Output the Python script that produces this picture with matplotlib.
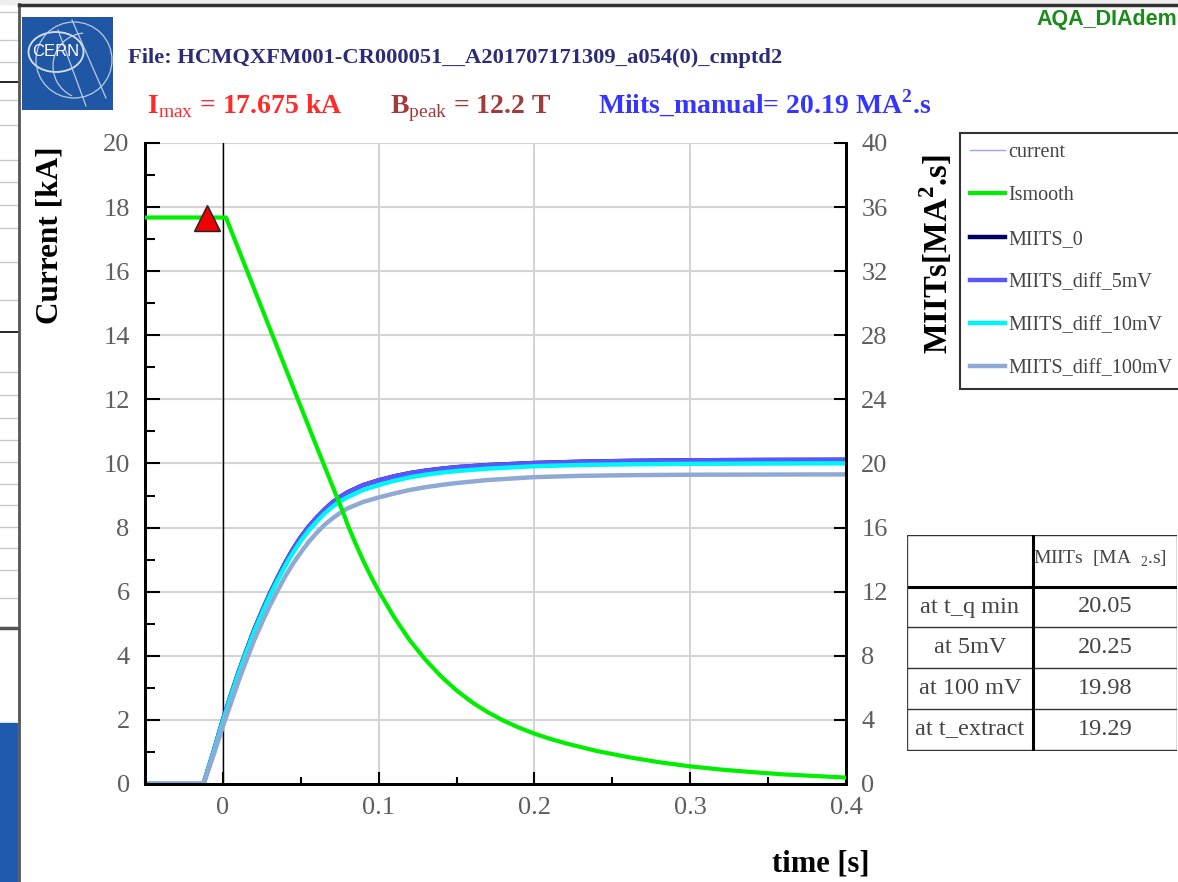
import matplotlib
matplotlib.use('Agg')
import matplotlib.pyplot as plt
from matplotlib.lines import Line2D
from matplotlib.patches import Rectangle, Circle, Ellipse, Arc
from matplotlib.ticker import MultipleLocator

plt.rcParams['font.family'] = ['Liberation Serif', 'DejaVu Serif']
plt.rcParams['mathtext.fontset'] = 'custom'
plt.rcParams['mathtext.rm'] = 'Liberation Serif'
plt.rcParams['mathtext.bf'] = 'Liberation Serif:bold'

W, H = 1178, 882

# ---- data ----
# smoothed / measured current [kA]
t_current = [-0.05, 0.002, 0.02, 0.04, 0.06, 0.078, 0.08, 0.085, 0.09, 0.095, 0.1,
             0.11, 0.12, 0.13, 0.14, 0.15, 0.16, 0.17, 0.18, 0.19, 0.2, 0.21, 0.22,
             0.24, 0.26, 0.28, 0.3, 0.32, 0.34, 0.36, 0.38, 0.4]
i_smooth = [17.675, 17.675, 15.46, 13.0, 10.55, 8.37, 8.1, 7.52, 6.98, 6.48, 6.02,
            5.2, 4.48, 3.88, 3.36, 2.92, 2.55, 2.24, 1.98, 1.76, 1.57, 1.41, 1.27,
            1.03, 0.84, 0.68, 0.55, 0.45, 0.37, 0.3, 0.25, 0.2]
i_current = i_smooth

# MIITs [MA^2.s]
t_miits = [-0.05, -0.0125, -0.006, 0.0, 0.005, 0.01, 0.015, 0.02, 0.025, 0.03, 0.035,
           0.04, 0.045, 0.05, 0.055, 0.06, 0.065, 0.07, 0.075, 0.08, 0.09, 0.1, 0.11,
           0.12, 0.13, 0.14, 0.15, 0.17, 0.2, 0.23, 0.26, 0.3, 0.35, 0.4]
miits_5mv = [0, 0, 2.0, 4.0, 5.5, 6.95, 8.3, 9.6, 10.75, 11.85, 12.85,
             13.8, 14.65, 15.4, 16.05, 16.6, 17.1, 17.55, 17.9, 18.2, 18.65, 18.95, 19.2,
             19.4, 19.55, 19.67, 19.77, 19.9, 20.03, 20.11, 20.16, 20.2, 20.22, 20.23]
miits_0 = miits_5mv
miits_10mv = [0, 0, 1.95, 3.9, 5.4, 6.85, 8.2, 9.47, 10.6, 11.7, 12.68,
              13.6, 14.43, 15.16, 15.8, 16.35, 16.85, 17.28, 17.62, 17.9, 18.35, 18.65, 18.92,
              19.14, 19.3, 19.43, 19.53, 19.68, 19.83, 19.91, 19.95, 19.98, 20.0, 20.01]
miits_100mv = [0, 0, 1.8, 3.6, 5.0, 6.4, 7.7, 8.95, 10.05, 11.1, 12.05,
               12.95, 13.75, 14.45, 15.1, 15.65, 16.15, 16.55, 16.9, 17.2, 17.6, 17.88, 18.13,
               18.35, 18.52, 18.66, 18.78, 18.97, 19.15, 19.23, 19.27, 19.3, 19.31, 19.32]

t_peak, i_peak = -0.0105, 17.675

table_rows = ['at t_q min', 'at 5mV', 'at 100 mV', 'at t_extract']
table_vals = ['20.05', '20.25', '19.98', '19.29']

file_name = 'File: HCMQXFM001-CR000051__A201707171309_a054(0)_cmptd2'


def fx(x):
    return x / W


def fy(y):
    return 1 - y / H


fig = plt.figure(figsize=(W / 100, H / 100), dpi=100)
fig.patch.set_facecolor('white')

# ---- screenshot surroundings ----
for yy in [12, 40, 62, 100, 125, 160, 182, 205, 228, 262, 300, 372, 395, 418, 440,
           462, 484, 505, 527, 548, 570, 598]:
    fig.add_artist(Line2D([0, fx(18)], [fy(yy), fy(yy)], color='#c8c8c8', lw=1,
                          transform=fig.transFigure))
for yy in [82, 332]:
    fig.add_artist(Line2D([0, fx(18)], [fy(yy), fy(yy)], color='black', lw=1.2,
                          transform=fig.transFigure))
fig.add_artist(Line2D([0, fx(18)], [fy(628), fy(628)], color='#555555', lw=2.5,
                      transform=fig.transFigure))
fig.add_artist(Rectangle((0, 0), fx(17), fy(723), color='#1f5aae',
                         transform=fig.transFigure))
fig.add_artist(Line2D([fx(19), fx(19)], [0, fy(4)], color='#555555', lw=2,
                      transform=fig.transFigure))
fig.add_artist(Line2D([fx(19), 1], [fy(5), fy(5)], color='#333333', lw=2.5,
                      transform=fig.transFigure))
fig.add_artist(Rectangle((0, fy(4)), 1, 4 / H, color='#eeeeee',
                         transform=fig.transFigure))

# ---- CERN logo ----
lax = fig.add_axes([fx(22), fy(110), 91 / W, 93 / H])
lax.set_xlim(0, 91)
lax.set_ylim(0, 93)
lax.add_patch(Rectangle((0, 0), 91, 93, color='#1f57a5'))
lax.add_patch(Ellipse((34, 58), 55, 40, fill=False, ec='#d8e2f0', lw=1.3))
lax.add_patch(Circle((52, 50), 38, fill=False, ec='#b8cbe6', lw=0.9))
lax.add_patch(Arc((64, 44), 66, 66, theta1=95, theta2=245, ec='#b8cbe6', lw=0.9))
lax.add_line(Line2D([36, 64], [80, 4], color='#b8cbe6', lw=0.9))
lax.add_line(Line2D([50, 84], [90, 12], color='#b8cbe6', lw=0.9))
lax.text(34, 58, 'CERN', color='white', fontsize=12, family='Liberation Sans',
         ha='center', va='center')
lax.axis('off')

# ---- header texts ----
fig.text(fx(128), fy(58), file_name, color='#2b2b78', fontsize=16.2,
         fontweight='bold', va='center', ha='left')
fig.text(fx(147), fy(113), r'I$_{\rm max}$ = 17.675 kA', color='#ff2a2a',
         fontsize=20, fontweight='bold', va='baseline', ha='left')
fig.text(fx(390), fy(113), r'B$_{\rm peak}$ = 12.2 T', color='#a33a3a',
         fontsize=20, fontweight='bold', va='baseline', ha='left')
fig.text(fx(598), fy(113), r'Miits_manual= 20.19 MA$^{\mathbf{2}}$.s', color='#3535ff',
         fontsize=20, fontweight='bold', va='baseline', ha='left')
fig.text(fx(1177), fy(20), 'AQA_DIAdem', color='#1a8a1a', fontsize=15.5,
         family='Liberation Sans', fontweight='bold', ha='right', va='center')

# ---- main axes ----
ax = fig.add_axes([fx(145), fy(784), (846 - 145) / W, (784 - 143) / H])
ax2 = ax.twinx()
# current on top of the MIITs curves, grid underneath everything
ax.set_zorder(ax2.get_zorder() + 1)
ax.patch.set_visible(False)
ax2.xaxis.set_visible(True)
ax2.grid(True, which='major', color='#d4d4d4', lw=1.5)
ax2.axvline(0, color='black', lw=1, zorder=1.8)

ax.plot(t_current, i_current, color='#9aa0ff', lw=1, label='current', zorder=3)
ax.plot(t_current, i_smooth, color='#00ee00', lw=3, label='Ismooth', zorder=4,
        solid_joinstyle='round')
ax.plot([t_peak], [i_peak], marker='^', ms=19, color='#ee0000', mec='#222222',
        mew=1, zorder=6)

ax2.plot(t_miits, miits_0, color='#000060', lw=3.2, label='MIITS_0')
ax2.plot(t_miits, miits_5mv, color='#5a55ff', lw=3.2, label='MIITS_diff_5mV')
ax2.plot(t_miits, miits_10mv, color='#00f6f6', lw=3.2, label='MIITS_diff_10mV')
ax2.plot(t_miits, miits_100mv, color='#8eaad4', lw=3.2, label='MIITS_diff_100mV')

ax.set_xlim(-0.05, 0.4)
ax.set_ylim(0, 20)
ax2.set_ylim(0, 40)
ax.set_xticks([0, 0.1, 0.2, 0.3, 0.4])
ax.set_xticklabels(['0', '0.1', '0.2', '0.3', '0.4'])
ax.xaxis.set_minor_locator(MultipleLocator(0.05))
ax.set_yticks(range(0, 21, 2))
ax.yaxis.set_minor_locator(MultipleLocator(1))
ax2.set_yticks(range(0, 41, 4))
ax2.tick_params(axis='x', which='both', length=0, labelbottom=False)

for a in (ax, ax2):
    for s in ['left', 'bottom', 'right']:
        a.spines[s].set_linewidth(2)
    a.spines['top'].set_visible(False)
ax.tick_params(axis='y', which='major', direction='in', length=11, width=1.5,
               pad=11, labelsize=19, labelcolor='#5e5e5e')
ax.tick_params(axis='y', which='minor', direction='in', length=7, width=1.5)
ax.tick_params(axis='x', which='major', direction='in', length=9, width=1.5,
               pad=9, labelsize=19, labelcolor='#5e5e5e')
ax.tick_params(axis='x', which='minor', direction='in', length=5, width=1.5)
ax2.tick_params(axis='y', which='major', direction='in', length=9, width=1.5,
                pad=11, labelsize=19, labelcolor='#5e5e5e')

fig.text(fx(50), fy(235), 'Current [kA]', rotation=90, fontsize=22.5,
         fontweight='bold', ha='center', va='center')
fig.text(fx(937), fy(254), r'MIITs[MA$^{\mathbf{2}}$.s]', rotation=90, fontsize=23.5,
         fontweight='bold', ha='center', va='center')
fig.text(fx(821), fy(864), 'time [s]', fontsize=22, fontweight='bold',
         ha='center', va='center')

# ---- legend ----
h1, l1 = ax.get_legend_handles_labels()
h2, l2 = ax2.get_legend_handles_labels()
leg = fig.legend(h1 + h2, l1 + l2, loc='upper left',
                 bbox_to_anchor=(fx(960), fy(133)), frameon=True, fancybox=False,
                 edgecolor='black', fontsize=14.5, labelspacing=1.2,
                 handlelength=1.75, handletextpad=0.15, borderpad=0.5,
                 borderaxespad=0)
leg.get_frame().set_linewidth(1.5)
for txt in leg.get_texts():
    txt.set_color('#444444')

# ---- MIITs table ----
tax = fig.add_axes([fx(907), fy(751), (1177 - 907) / W, (751 - 535) / H])
tax.set_xlim(0, 270)
tax.set_ylim(216, 0)
tax.axis('off')
row_y = [0, 52, 92, 133, 174, 215]
for i, yy in enumerate(row_y):
    lw = 2.2 if i == 1 else 1
    tax.plot([0, 270], [yy, yy], color='#333333' if i != 1 else 'black', lw=lw,
             solid_capstyle='butt')
tax.plot([0, 0], [0, 215], color='#444444', lw=1)
tax.plot([270, 270], [0, 215], color='#444444', lw=1)
tax.plot([126, 126], [0, 215], color='black', lw=2.2)
tax.text(126, 24, r'MIITs  [MA  $_{\rm 2}$.s]', fontsize=14, color='#444444',
         ha='left', va='center')
for i, (name, val) in enumerate(zip(table_rows, table_vals)):
    yc = (row_y[i + 1] + row_y[i + 2]) / 2
    tax.text(63, yc, name, fontsize=17.5, color='#444444', ha='center', va='center')
    tax.text(198, yc, val, fontsize=17.5, color='#444444', ha='center', va='center')

fig.savefig('out.png', dpi=100)
